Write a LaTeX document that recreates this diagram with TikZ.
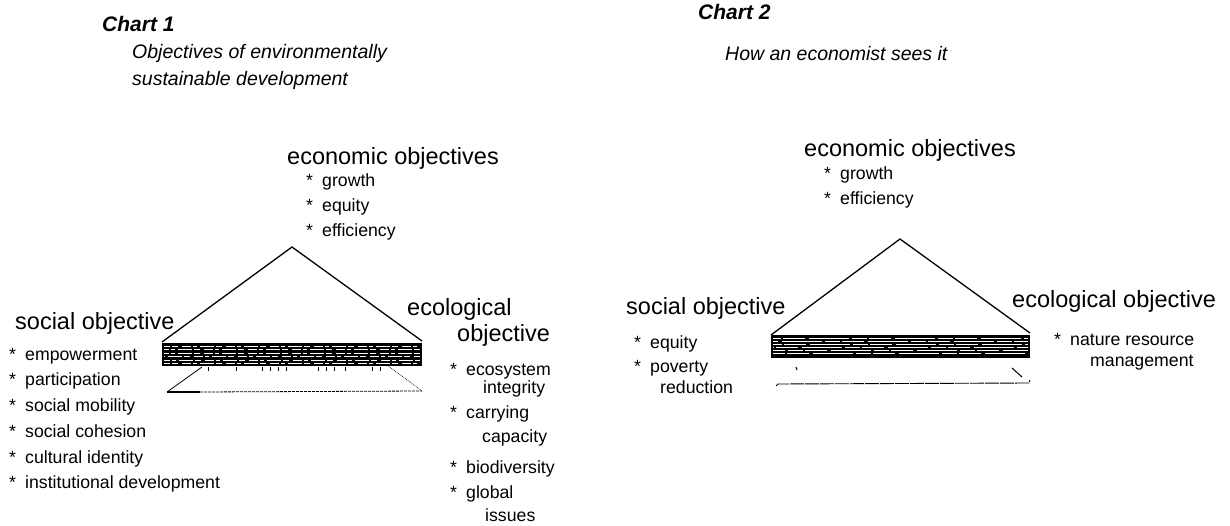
\documentclass[tikz,border=0pt]{standalone}
\usepackage{fontspec}
\setmainfont{Liberation Sans}
\usepackage{tikz}
\usetikzlibrary{positioning}

\tikzset{
  heading/.style={anchor=base west, inner sep=0pt, font=\fontsize{23.5}{28}\selectfont},
  item/.style={anchor=base west, inner sep=0pt, font=\fontsize{17.7}{21}\selectfont},
  charttitle/.style={anchor=base west, inner sep=0pt, font=\fontsize{21}{25}\selectfont\bfseries\itshape},
  subtitle/.style={anchor=base west, inner sep=0pt, font=\fontsize{19.5}{24}\selectfont\itshape},
  roof/.style={line width=1.3pt, line join=miter},
}
\newcommand{\bul}{\makebox[16pt][l]{*}}

\begin{document}
\begin{tikzpicture}[x=1pt, y=-1pt]
    \pgfmathsetseed{7}
    \useasboundingbox (0,0) rectangle (1230,526);

    % Chart 1 titles
    \node[charttitle] (title1) at (102,32) {Chart 1};
    \node[subtitle] (sub1a) at (132,59) {Objectives of environmentally};
    \node[subtitle] (sub1b) at (132,86) {sustainable development};

    % Chart 1 triangle and bar
    \draw[roof] (162,342) -- (292,247) -- (422,341);
    \fill (162,343) rectangle (422,366);
    \foreach \yy [evaluate=\yy as \ph using {int(rnd*30)}] in {346,349.5,...,364}
        \draw[white, line width=0.6pt, dash pattern=on 9pt off 2pt on 4pt off 3pt on 14pt off 2pt on 6pt off 4pt, dash phase=\ph pt] (164,\yy) -- (420,\yy);
    \draw[line width=0.8pt] (202,367) -- (167,392);
    \draw[line width=2pt] (167,392) -- (200,392);
    \draw[line width=0.8pt, dash pattern=on 3pt off 1pt] (200,392) -- (422,391);
    \draw[line width=0.7pt, densely dotted] (422,391) -- (388,366);
    \foreach \xx in {208,236,262,270,278,286,318,326,334,345,372,380}
        \draw[line width=0.5pt] (\xx,367) -- (\xx,371);

    % Chart 1 economic
    \node[heading] (econ1) at (287,165) {economic objectives};
    \node[item] (growth1) at (306,187) {\bul growth};
    \node[item] (equity1) at (306,212) {\bul equity};
    \node[item] (effic1) at (306,237) {\bul efficiency};

    % Chart 1 social
    \node[heading] (social1) at (15,329) {social objective};
    \node[item] (empow1) at (9,360) {\bul empowerment};
    \node[item] (partic1) at (9,385) {\bul participation};
    \node[item] (mobil1) at (9,411) {\bul social mobility};
    \node[item] (cohes1) at (9,437) {\bul social cohesion};
    \node[item] (ident1) at (9,463) {\bul cultural identity};
    \node[item] (instit1) at (9,488) {\bul institutional development};

    % Chart 1 ecological
    \node[heading] (ecol1a) at (407,316) {ecological};
    \node[heading] (ecol1b) at (457,341) {objective};
    \node[item] (ecosys1) at (450,375) {\bul ecosystem};
    \node[item] (integ1) at (483,393) {integrity};
    \node[item] (carry1) at (450,418) {\bul carrying};
    \node[item] (capac1) at (482,442) {capacity};
    \node[item] (biodiv1) at (450,473) {\bul biodiversity};
    \node[item] (global1) at (450,498) {\bul global};
    \node[item] (issues1) at (485,521) {issues};

    % Chart 2 titles
    \node[charttitle] (title2) at (698,20) {Chart 2};
    \node[subtitle] (sub2) at (725,61) {How an economist sees it};

    % Chart 2 triangle and bar
    \draw[roof] (771,335) -- (900,239) -- (1030,333);
    \fill (771,335) rectangle (1030,358);
    \foreach \yy [evaluate=\yy as \ph using {int(rnd*80)}] in {338.5,341.5,...,356}
        \draw[white, line width=1.1pt, dash pattern=on 40pt off 3pt on 15pt off 2pt on 22pt off 4pt, dash phase=\ph pt] (773,\yy) -- (1028,\yy);
    \draw[line width=1pt] (796,367) -- (797,370);
    \draw[line width=1pt] (1012,368) -- (1022,377);
    \draw[line width=0.9pt, dash pattern=on 14pt off 1pt] (776,386) -- (778,384) -- (1029,383) -- (1030,380);

    % Chart 2 labels
    \node[heading] (econ2) at (804,157) {economic objectives};
    \node[item] (growth2) at (824,180) {\bul growth};
    \node[item] (effic2) at (824,205) {\bul efficiency};
    \node[heading] (social2) at (626,314) {social objective};
    \node[item] (equity2) at (634,348) {\bul equity};
    \node[item] (poverty2) at (634,372) {\bul poverty};
    \node[item] (reduct2) at (660,393) {reduction};
    \node[heading] (ecol2) at (1012,307) {ecological objective};
    \node[item] (nature2) at (1054,345) {\bul nature resource};
    \node[item] (manag2) at (1090,366) {management};

\end{tikzpicture}
\end{document}
